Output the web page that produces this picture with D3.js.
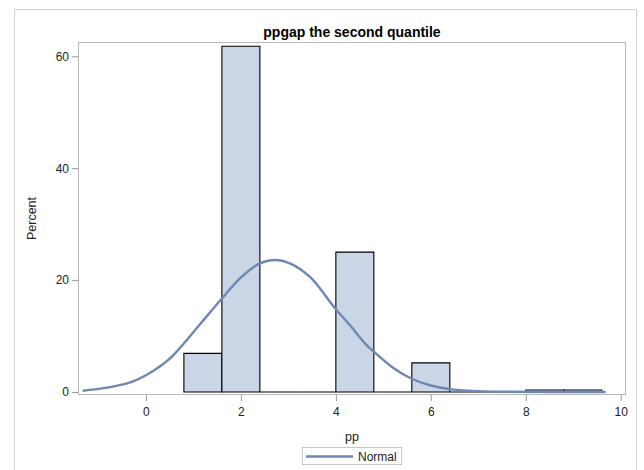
<!DOCTYPE html>
<html>
<head>
<meta charset="utf-8">
<script src="https://cdn.jsdelivr.net/npm/d3@7"></script>
<style>
  body { margin: 0; background: #fff; }
  svg { display: block; font-family: Arial, "Liberation Sans", sans-serif; }
</style>
</head>
<body>
<svg id="chart" width="644" height="470"></svg>
<script>
// Histogram of pp (percent per bin) with a fitted normal curve
const binStart = [0.8, 1.6, 2.4, 3.2, 4.0, 4.8, 5.6, 6.4, 7.2, 8.0, 8.8];
const binWidth = 0.8;
const binPercent = [6.9, 61.8, 0, 0, 25.0, 0, 5.2, 0, 0, 0.35, 0.35];

// Normal density curve, percent scale
const curveX = [-1.33, -1.0, -0.62, -0.27, 0.0, 0.3, 0.57, 0.72, 1.14, 1.6, 1.98, 2.2, 2.38, 2.72,
                3.03, 3.45, 4.0, 4.29, 4.69, 4.8, 5.21, 5.6, 5.98, 6.4, 6.86, 7.5, 8.5, 9.68];
const curvePercent = [0.23, 0.55, 1.1, 1.9, 3.0, 4.6, 6.5, 7.9, 12.1, 16.7, 20.3, 21.9, 22.9, 23.6,
                      23.0, 20.6, 14.8, 12.0, 8.0, 7.2, 4.3, 2.37, 1.2, 0.5, 0.2, 0.05, 0, 0];

const xTicks = [0, 2, 4, 6, 8, 10];
const yTicks = [0, 20, 40, 60];

const titleText = "ppgap the second quantile";
const xLabel = "pp";
const yLabel = "Percent";
const legendLabel = "Normal";

const svg = d3.select("#chart");
const L = 78, R = 626, T = 42, B = 395;

const x = d3.scaleLinear().domain([-1.43, 10.11]).range([L, R]);
const y = d3.scaleLinear().domain([-0.54, 62.55]).range([B, T]);

// outer graph border
svg.append("rect")
  .attr("x", 14.5).attr("y", 9.5).attr("width", 622).attr("height", 470)
  .attr("fill", "none").attr("stroke", "#d0d0d0");

// title
svg.append("text")
  .attr("x", (L + R) / 2).attr("y", 37)
  .attr("text-anchor", "middle")
  .attr("font-size", 14).attr("font-weight", "bold").attr("fill", "#000")
  .text(titleText);

// plot frame
svg.append("rect")
  .attr("x", L + 0.5).attr("y", T + 0.5).attr("width", R - L - 1).attr("height", B - T - 1)
  .attr("fill", "#fff").attr("stroke", "#b9b9b9");

// histogram bars (paths so empty bins show as a line at zero)
const bins = binStart.map((s, i) => ({ s, p: binPercent[i] }));
svg.append("g")
  .selectAll("path")
  .data(bins)
  .join("path")
  .attr("d", d => {
    const x0 = x(d.s), x1 = x(d.s + binWidth), y0 = y(0), y1 = y(d.p);
    return `M${x0},${y0}V${y1}H${x1}V${y0}Z`;
  })
  .attr("fill", "#cad5e5")
  .attr("stroke", "#000")
  .attr("stroke-width", 1.1);

// normal curve
const line = d3.line()
  .x((d, i) => x(curveX[i]))
  .y(d => y(d))
  .curve(d3.curveMonotoneX);
svg.append("path")
  .datum(curvePercent)
  .attr("d", line)
  .attr("fill", "none")
  .attr("stroke", "#6e87b3")
  .attr("stroke-width", 2.4)
  .attr("stroke-linejoin", "round");

// axes
const yAxis = svg.append("g")
  .attr("transform", `translate(${L},0)`)
  .call(d3.axisLeft(y).tickValues(yTicks).tickSize(6).tickPadding(3).tickFormat(d3.format("d")));
const xAxis = svg.append("g")
  .attr("transform", `translate(0,${B})`)
  .call(d3.axisBottom(x).tickValues(xTicks).tickSize(6).tickPadding(6).tickFormat(d3.format("d")));
[yAxis, xAxis].forEach(g => {
  g.select(".domain").remove();
  g.selectAll(".tick line").attr("stroke", "#9a9a9a");
  g.selectAll(".tick text").attr("fill", "#222").attr("font-size", 12)
    .attr("font-family", "Arial, 'Liberation Sans', sans-serif");
});

// axis labels
svg.append("text")
  .attr("x", (L + R) / 2).attr("y", 441)
  .attr("text-anchor", "middle")
  .attr("font-size", 12.5).attr("fill", "#222")
  .text(xLabel);
svg.append("text")
  .attr("transform", `translate(36,${(T + B) / 2}) rotate(-90)`)
  .attr("text-anchor", "middle")
  .attr("font-size", 12.5).attr("fill", "#222")
  .text(yLabel);

// legend
const lg = svg.append("g");
lg.append("rect")
  .attr("x", 302.5).attr("y", 447.5).attr("width", 99).attr("height", 17)
  .attr("fill", "#fff").attr("stroke", "#c8c8c8");
lg.append("line")
  .attr("x1", 306).attr("x2", 353).attr("y1", 456.5).attr("y2", 456.5)
  .attr("stroke", "#6e87b3").attr("stroke-width", 2.4);
lg.append("text")
  .attr("x", 358).attr("y", 460.5)
  .attr("font-size", 12).attr("fill", "#222")
  .text(legendLabel);
</script>
</body>
</html>
